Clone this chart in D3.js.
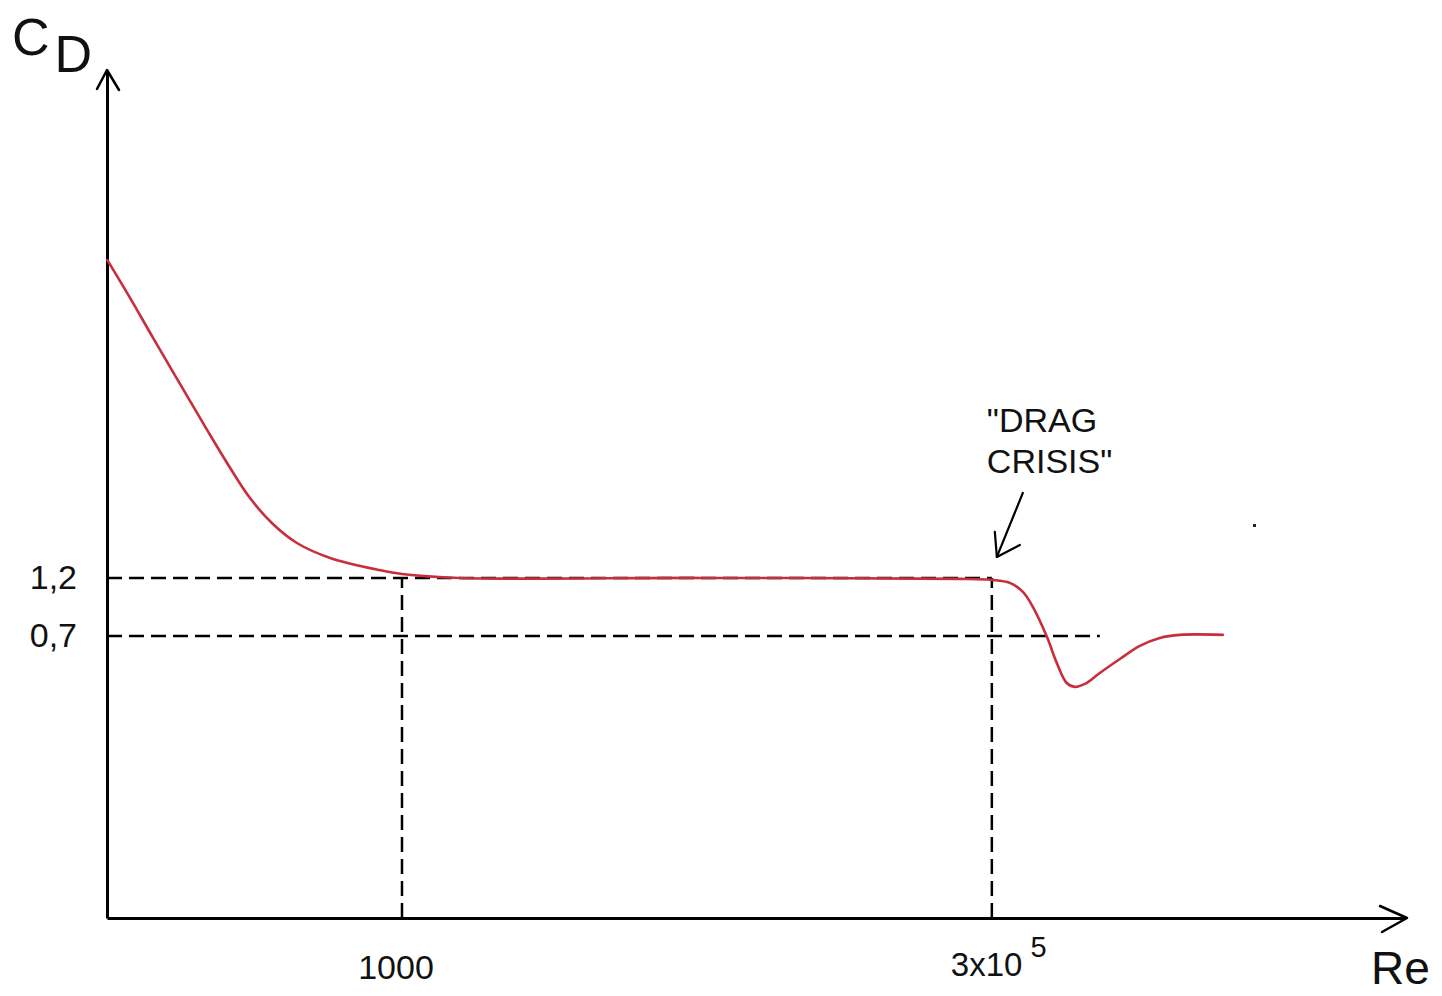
<!DOCTYPE html>
<html>
<head>
<meta charset="utf-8">
<script src="https://cdn.jsdelivr.net/npm/d3@7"></script>
<style>
  html, body { margin: 0; padding: 0; background: #fff; }
  svg { display: block; }
  text { font-family: "Liberation Sans", Arial, sans-serif; fill: #111; }
</style>
</head>
<body>
<svg id="chart" width="1442" height="996"></svg>
<script>
// ---- data (schematic drag curve of a sphere, log-log) ----
const reValues = [57.9, 72.1, 90.1, 116.9, 151.8, 189.6, 230, 287, 362, 499, 808, 1000, 1752, 17830, 220000, 300000, 357000, 405000, 446000, 511000, 562000, 619000, 669000, 737300, 852000, 1034000, 1255000, 1522000, 1847000, 2799000];
const cdValues = [23.0, 16.19, 11.16, 7.28, 4.75, 3.34, 2.52, 1.98, 1.66, 1.445, 1.29, 1.245, 1.2, 1.2, 1.19, 1.178, 1.146, 1.054, 0.917, 0.694, 0.545, 0.452, 0.436, 0.448, 0.496, 0.565, 0.638, 0.687, 0.707, 0.707];

const xTickValues = [1000, 300000];
const xTickLabels = ["1000", "3x10", "5"];        // "3x10" + superscript "5"
const yTickValues = [1.2, 0.7];
const yTickLabels = ["1,2", "0,7"];
const reDomain = [57.7, 1.63e7];
const cdDomain = [0.0509, 134.6];
const crisisRe = 300000;
const lowRefEndRe = 852000;
const annotationLines = ["\"DRAG", "CRISIS\""];
const axisTitles = { y: "C", ySub: "D", x: "Re" };

// ---- layout ----
const mLeft = 107, mRight = 1405, mTop = 70, mBottom = 918;
const svg = d3.select("#chart");

const x = d3.scaleLog().domain(reDomain).range([mLeft, mRight]);
const y = d3.scaleLog().domain(cdDomain).range([mBottom, mTop]);

// dashed reference lines
const refs = [
  { x1: reDomain[0], y1: yTickValues[0], x2: xTickValues[1], y2: yTickValues[0] },
  { x1: reDomain[0], y1: yTickValues[1], x2: lowRefEndRe, y2: yTickValues[1] },
  { x1: xTickValues[0], y1: cdDomain[0], x2: xTickValues[0], y2: yTickValues[0] },
  { x1: xTickValues[1], y1: cdDomain[0], x2: xTickValues[1], y2: yTickValues[0] }
];
svg.append("g").selectAll("line").data(refs).join("line")
  .attr("x1", d => x(d.x1)).attr("y1", d => y(d.y1))
  .attr("x2", d => x(d.x2)).attr("y2", d => y(d.y2))
  .attr("stroke", "#000").attr("stroke-width", 2.5)
  .attr("stroke-dasharray", "15,7");

// axes (domain lines only)
const xAxis = d3.axisBottom(x).tickValues([]).tickSizeOuter(0);
const yAxis = d3.axisLeft(y).tickValues([]).tickSizeOuter(0);
const gx = svg.append("g").attr("transform", `translate(0,${mBottom})`).call(xAxis);
const gy = svg.append("g").attr("transform", `translate(${mLeft},0)`).call(yAxis);
[gx, gy].forEach(g => g.select(".domain").attr("stroke", "#000").attr("stroke-width", 3));

// arrow heads
const arrowStyle = sel => sel.attr("fill", "none").attr("stroke", "#000").attr("stroke-width", 2.5).attr("stroke-linecap", "round").attr("stroke-linejoin", "round");
svg.append("path").call(arrowStyle)
  .attr("d", `M${mLeft - 10},${mTop + 19} L${mLeft},${mTop} L${mLeft + 12},${mTop + 20}`);
svg.append("path").call(arrowStyle)
  .attr("d", `M${mRight - 25},${mBottom - 12} L${mRight + 2},${mBottom} L${mRight - 23},${mBottom + 14}`);

// curve
const line = d3.line().x((d, i) => x(reValues[i])).y(d => y(d)).curve(d3.curveCatmullRom.alpha(0.5));
svg.append("path").datum(cdValues)
  .attr("d", line)
  .attr("fill", "none").attr("stroke", "#c62f3b").attr("stroke-width", 2.6)
  .attr("stroke-linejoin", "round").attr("stroke-linecap", "round");

// y tick labels
svg.append("g").selectAll("text").data(yTickValues).join("text")
  .attr("x", 77).attr("y", d => y(d) + 11)
  .attr("text-anchor", "end").attr("font-size", 34)
  .text((d, i) => yTickLabels[i]);

// x tick labels
svg.append("text")
  .attr("x", x(xTickValues[0]) - 6).attr("y", mBottom + 61)
  .attr("text-anchor", "middle").attr("font-size", 34)
  .text(xTickLabels[0]);
const t2 = svg.append("text")
  .attr("x", x(xTickValues[1]) - 41).attr("y", mBottom + 58)
  .attr("font-size", 33);
t2.append("tspan").text(xTickLabels[1]);
t2.append("tspan").attr("dx", 8).attr("dy", -19).attr("font-size", 29).text(xTickLabels[2]);

// axis titles
const yt = svg.append("text").attr("x", 12).attr("y", 55).attr("font-size", 52);
yt.append("tspan").text(axisTitles.y);
yt.append("tspan").attr("dx", 5).attr("dy", 17).text(axisTitles.ySub);
svg.append("text").attr("x", 1371).attr("y", 984).attr("font-size", 46).text(axisTitles.x);

// annotation
const ax = x(crisisRe), ay = y(yTickValues[0]);
svg.append("text").attr("font-size", 34)
  .selectAll("tspan").data(annotationLines).join("tspan")
  .attr("x", ax - 5).attr("y", (d, i) => ay - 146 + i * 41)
  .text(d => d);
svg.append("path").call(arrowStyle).attr("stroke-width", 2.2)
  .attr("d", `M${ax + 31},${ay - 85} L${ax + 5},${ay - 21}`);
svg.append("path").call(arrowStyle).attr("stroke-width", 2.2)
  .attr("d", `M${ax + 3},${ay - 46} L${ax + 5},${ay - 21} L${ax + 28},${ay - 33}`);

// stray dot in the sketch
svg.append("rect").attr("x", 1253).attr("y", 524).attr("width", 3).attr("height", 3).attr("fill", "#222");
</script>
</body>
</html>
